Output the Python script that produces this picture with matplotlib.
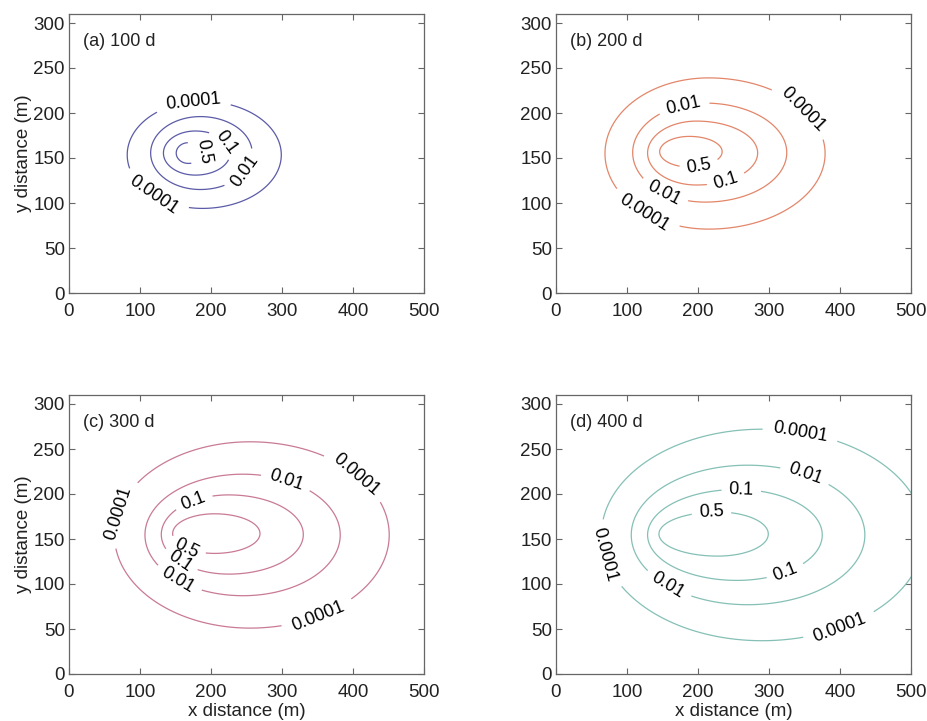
import numpy as np
import matplotlib
matplotlib.use("Agg")
import matplotlib.pyplot as plt

plt.rcParams['font.family'] = ['Liberation Sans', 'DejaVu Sans']

# ---- data ----
panel_titles = ["(a) 100 d", "(b) 200 d", "(c) 300 d", "(d) 400 d"]
level_labels = ["0.0001", "0.01", "0.1", "0.5"]
line_colors = ["#5b5ba8", "#e3866a", "#c97a95", "#85c0b6"]

# per panel, per level (0.0001, 0.01, 0.1, 0.5): contour extents in metres
x_left = [[82, 115, 133, 151],
          [69, 108, 129, 146],
          [64, 107, 130, 146],
          [64, 106, 129, 145]]
x_right = [[299, 258, 227, 190],
           [379, 325, 284, 234],
           [451, 382, 330, 269],
           [519, 435, 375, 299]]
y_bottom = [[94, 115, 131, 144],
            [71, 101, 120, 140],
            [51, 87, 111, 134],
            [37, 77, 104, 131]]
y_top = [[213, 196, 180, 167],
         [239, 211, 191, 174],
         [258, 222, 199, 178],
         [272, 232, 205, 180]]
x_peak = [[188, 185, 178, 168],
          [215, 210, 198, 188],
          [255, 245, 225, 205],
          [290, 270, 255, 228]]

# label anchor points per panel, per level
label_pos = [
    {"0.0001": [(175, 210), (123, 113)], "0.01": [(245, 137)],
     "0.1": [(217, 165)], "0.5": [(188, 157)]},
    {"0.0001": [(346, 202), (127, 92)], "0.01": [(181, 205), (153, 113)],
     "0.1": [(240, 124)], "0.5": [(202, 140)]},
    {"0.0001": [(76, 177), (403, 220), (351, 64)], "0.01": [(306, 215), (156, 107)],
     "0.1": [(177, 189), (158, 127)], "0.5": [(166, 140)]},
    {"0.0001": [(344, 267), (71, 133), (400, 51)], "0.01": [(351, 222), (160, 101)],
     "0.1": [(261, 205), (325, 110)], "0.5": [(219, 177)]},
]

xticks = [0, 100, 200, 300, 400, 500]
yticks = [0, 50, 100, 150, 200, 250, 300]

# ---- figure ----
fig = plt.figure(figsize=(9.28, 7.21), dpi=100)
W, H = 928, 721
boxes = [(69, 14), (556, 14), (69, 395), (556, 395)]
aw, ah = 355, 279

gx = np.linspace(-20, 580, 601)
gy = np.linspace(-20, 330, 351)
X, Y = np.meshgrid(gx, gy)

for p in range(4):
    l, t = boxes[p]
    ax = fig.add_axes([l / W, 1 - (t + ah) / H, aw / W, ah / H])
    for k, lab in enumerate(level_labels):
        xp = x_peak[p][k]
        a = np.where(X < xp, xp - x_left[p][k], x_right[p][k] - xp)
        yc = 0.5 * (y_bottom[p][k] + y_top[p][k])
        b = 0.5 * (y_top[p][k] - y_bottom[p][k])
        D = np.sqrt(((X - xp) / a) ** 2 + ((Y - yc) / b) ** 2)
        cs = ax.contour(X, Y, D, levels=[1.0], colors=line_colors[p], linewidths=0.9)
        ax.clabel(cs, levels=[1.0], fmt={1.0: lab}, manual=label_pos[p][lab],
                  inline=True, inline_spacing=4, colors='k', fontsize=13)
    ax.set_xlim(0, 500)
    ax.set_ylim(0, 310)
    ax.set_xticks(xticks)
    ax.set_yticks(yticks)
    ax.tick_params(direction='in', length=4, width=0.8, color='#666666',
                   top=True, right=True, labelsize=13.5, labelcolor='#222222')
    ax.tick_params(axis='x', pad=7)
    ax.tick_params(axis='y', pad=3)
    for s in ax.spines.values():
        s.set_color('#666666')
        s.set_linewidth(0.9)
    ax.text(20, 279, panel_titles[p], fontsize=13, ha='left', va='center', color='#222222')
    if p % 2 == 0:
        ax.set_ylabel("y distance (m)", fontsize=13.5, color='#222222', labelpad=1)
    if p >= 2:
        ax.set_xlabel("x distance (m)", fontsize=13.5, color='#222222', labelpad=2)

fig.savefig("out.png", dpi=100)
